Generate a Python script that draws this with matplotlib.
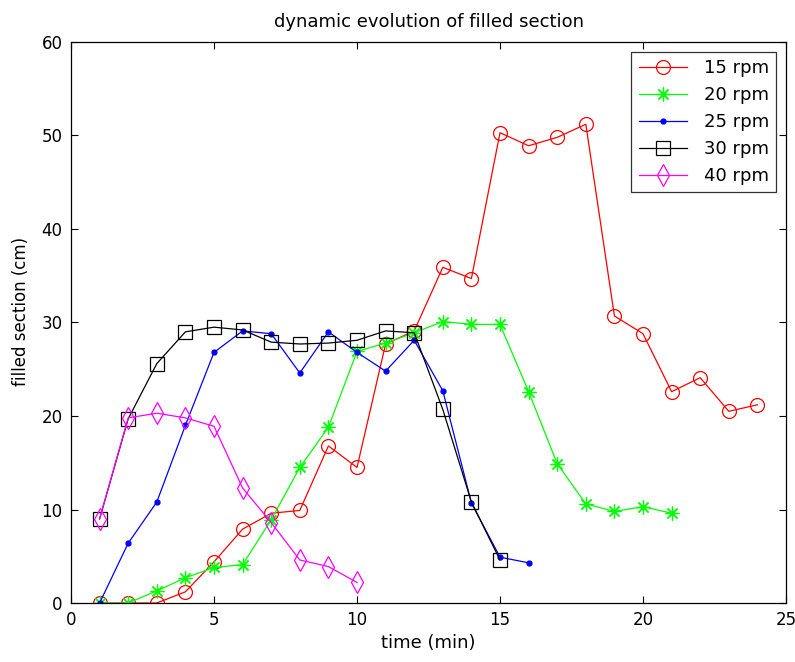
import matplotlib
matplotlib.use("Agg")
import matplotlib.pyplot as plt

plt.rcParams['font.family'] = ['DejaVu Sans']

# time axis (min) for each speed
t15 = list(range(1, 25))
t20 = list(range(1, 22))
t25 = list(range(1, 17))
t30 = list(range(1, 16))
t40 = list(range(1, 11))

# filled section (cm)
s15 = [0, 0, 0, 1.2, 4.4, 7.9, 9.6, 9.9, 16.8, 14.5, 27.7, 29.1, 35.9, 34.7,
       50.3, 48.9, 49.8, 51.2, 30.7, 28.8, 22.6, 24.1, 20.5, 21.2]
s20 = [0, 0, 1.3, 2.7, 3.8, 4.1, 8.9, 14.5, 18.8, 26.9, 27.8, 28.9, 30.1, 29.8,
       29.8, 22.6, 14.9, 10.6, 9.8, 10.3, 9.6]
s25 = [0, 6.4, 10.8, 19.0, 26.8, 29.1, 28.8, 24.6, 29.0, 26.8, 24.8, 28.1,
       22.7, 10.7, 4.9, 4.3]
s30 = [9.0, 19.7, 25.6, 29.0, 29.5, 29.2, 27.9, 27.7, 27.8, 28.1, 29.1, 28.9,
       20.7, 10.8, 4.6]
s40 = [9.0, 19.8, 20.3, 19.8, 18.9, 12.3, 8.6, 4.6, 3.9, 2.2]

labels = ['15 rpm', '20 rpm', '25 rpm', '30 rpm', '40 rpm']

fig = plt.figure(figsize=(7.95, 6.62), dpi=100)
ax = fig.add_axes([0.0893, 0.0891, 0.8994, 0.8475])

lw = 0.9
asterisk = (8, 2, 0)
ax.plot(t15, s15, linestyle='-', marker='o', color='#ff0000', mfc='none',
        ms=10, lw=lw, mew=0.9, label=labels[0])
ax.plot(t20, s20, linestyle='-', marker=asterisk, color='#00ff00',
        ms=10, lw=lw, mew=0.9, label=labels[1])
ax.plot(t25, s25, linestyle='-', marker='o', color='#0000ff',
        ms=3.5, lw=lw, label=labels[2])
ax.plot(t30, s30, linestyle='-', marker='s', color='#000000', mfc='none',
        ms=10, lw=lw, mew=0.9, label=labels[3])
ax.plot(t40, s40, linestyle='-', marker='d', color='#ff00ff', mfc='none',
        ms=11, lw=lw, mew=0.9, label=labels[4])

ax.set_xlim(0, 25)
ax.set_ylim(0, 60)
ax.set_xticks([0, 5, 10, 15, 20, 25])
ax.set_yticks([0, 10, 20, 30, 40, 50, 60])
ax.tick_params(direction='in', top=True, right=True, length=5, labelsize=12,
               width=0.8, pad=6)
for sp in ax.spines.values():
    sp.set_linewidth(0.9)

ax.set_xlabel('time (min)', fontsize=13, labelpad=3)
ax.set_ylabel('filled section (cm)', fontsize=12)
ax.yaxis.set_label_coords(-0.057, 0.52)
ax.set_title('dynamic evolution of filled section', fontsize=13, pad=11)

leg = ax.legend(loc='upper right', fontsize=13, frameon=True, fancybox=False,
                edgecolor='black', borderaxespad=0.55, handlelength=2.7,
                labelspacing=0.5, borderpad=0.4, handletextpad=0.9)
leg.get_frame().set_linewidth(0.9)

fig.savefig('out.png', dpi=100)
